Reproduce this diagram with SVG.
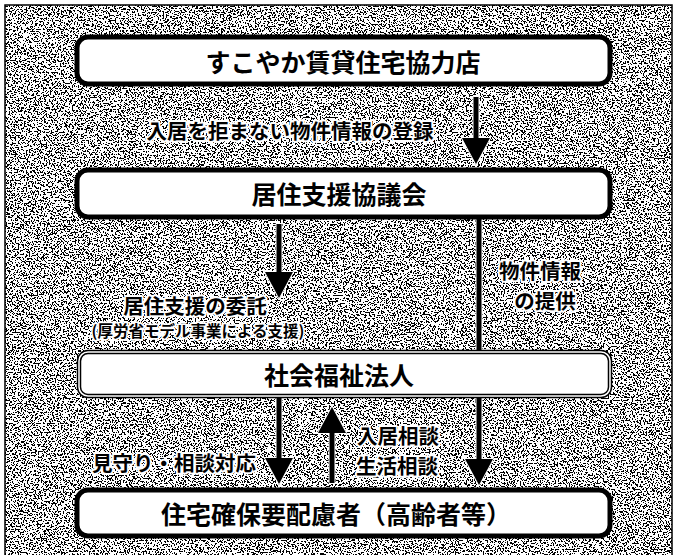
<svg xmlns="http://www.w3.org/2000/svg" width="676" height="555" viewBox="0 0 676 555">
<defs>
<filter id="speckle" x="0" y="0" width="100%" height="100%" color-interpolation-filters="sRGB">
<feTurbulence type="fractalNoise" baseFrequency="0.65" numOctaves="2" seed="7" result="t"/>
<feColorMatrix in="t" type="matrix" values="1 0 0 0 0  1 0 0 0 0  1 0 0 0 0  0 0 0 0 1"/>
<feComponentTransfer>
<feFuncR type="discrete" tableValues="0 0 0 0 0 0 0 0 0 1 1 1 1 1 1 1 1 1 1 1"/>
<feFuncG type="discrete" tableValues="0 0 0 0 0 0 0 0 0 1 1 1 1 1 1 1 1 1 1 1"/>
<feFuncB type="discrete" tableValues="0 0 0 0 0 0 0 0 0 1 1 1 1 1 1 1 1 1 1 1"/>
</feComponentTransfer>
</filter>
<style>
.box{fill:#fff;stroke:#000;stroke-width:5}
.box3{fill:#fff;stroke:#000;stroke-width:4.5}
.box3in{fill:none;stroke:#fff;stroke-width:1.5}
.t{font-family:"Noto Sans CJK JP","Noto Sans CJK SC",sans-serif;font-weight:bold;fill:#000;text-anchor:middle;dominant-baseline:central}
.bt{font-size:25px}
.lb{font-size:20.5px;stroke:#fff;stroke-width:4;paint-order:stroke;stroke-linejoin:round}
.sm{font-size:15.5px;stroke:#fff;stroke-width:3.5;paint-order:stroke;stroke-linejoin:round}
.arr{fill:#000;stroke:#fff;stroke-width:2;paint-order:stroke;stroke-linejoin:round}
.frame{stroke:#000;stroke-width:1.5;fill:none}
</style>
</defs>
<rect x="0" y="0" width="676" height="555" fill="#fff"/>
<rect x="5" y="5" width="667" height="550" filter="url(#speckle)"/>
<path class="frame" d="M5,555 V5 H672 V555"/>

<g id="connectors">
<!-- すこやか -> 居住支援協議会 -->
<path class="arr" d="M473.5,97 H478.5 V138 H490 L476,164 L462,138 H473.5 Z"/>
<!-- 協議会 -> 社会福祉法人 -->
<path class="arr" d="M276.5,224 H281.5 V272 H293 L279,298 L265,272 H276.5 Z"/>
<!-- 協議会 -> 住宅確保要配慮者 (物件情報の提供) -->
<path class="arr" d="M476.5,219 H481.5 V459 H493 L479,485 L465,459 H476.5 Z"/>
<!-- 社会福祉法人 -> 住宅確保要配慮者 -->
<path class="arr" d="M276.5,398 H281.5 V458 H293 L279,484 L265,458 H276.5 Z"/>
<!-- 住宅確保要配慮者 -> 社会福祉法人 -->
<path class="arr" d="M329.5,483 H334.5 V433 H346 L332,407 L318,433 H329.5 Z"/>
</g>

<g id="n1">
<rect class="box" x="77" y="37" width="533" height="47" rx="11"/>
<text class="t bt" x="343" y="61">すこやか賃貸住宅協力店</text>
</g>
<g id="n2">
<rect class="box" x="77" y="170" width="533" height="47" rx="11"/>
<text class="t bt" x="339" y="193">居住支援協議会</text>
</g>
<g id="n3">
<rect class="box3" x="79" y="352" width="531" height="44" rx="9"/>
<rect class="box3in" x="79" y="352" width="531" height="44" rx="9"/>
<text class="t bt" x="339" y="374">社会福祉法人</text>
</g>
<g id="n4">
<rect class="box" x="77" y="490" width="533" height="46" rx="11"/>
<text class="t bt" x="336" y="513">住宅確保要配慮者（高齢者等）</text>
</g>

<g id="labels">
<text class="t lb" x="290" y="130">入居を拒まない物件情報の登録</text>
<text class="t lb" y="270"><tspan x="540">物件情報</tspan><tspan x="545" dy="30">の提供</tspan></text>
<text class="t lb" x="195" y="305">居住支援の委託</text>
<text class="t sm" x="198" y="330">(厚労省モデル事業による支援)</text>
<text class="t lb" x="174" y="462">見守り・相談対応</text>
<text class="t lb" y="435"><tspan x="398">入居相談</tspan><tspan x="397" dy="30">生活相談</tspan></text>
</g>
</svg>
